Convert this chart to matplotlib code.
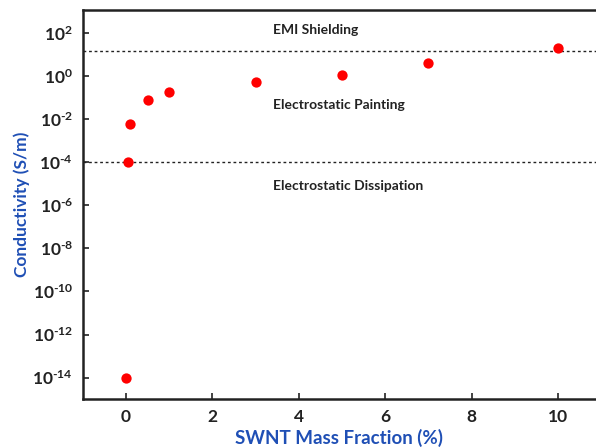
import numpy as np
import matplotlib
matplotlib.use("Agg")
import matplotlib.pyplot as plt

# SWNT loading (%) vs conductivity (S/m)
mass_frac = [0.0, 0.05, 0.1, 0.5, 1.0, 3.0, 5.0, 7.0, 10.0]
conductivity = [1e-14, 1e-4, 6e-3, 8e-2, 1.9e-1, 5.5e-1, 1.1e0, 4.2e0, 2.0e1]

# threshold lines and region labels
thresholds = [15.0, 1e-4]
region_names = ["EMI Shielding", "Electrostatic Painting", "Electrostatic Dissipation"]
region_y = [1.4e2, 4.5e-2, 8e-6]

xticks = [0, 2, 4, 6, 8, 10]
yticks = [1e2, 1e0, 1e-2, 1e-4, 1e-6, 1e-8, 1e-10, 1e-12, 1e-14]

plt.rcParams['font.family'] = ['Lato', 'DejaVu Sans']
plt.rcParams['mathtext.fontset'] = 'custom'
plt.rcParams['mathtext.rm'] = 'Lato:bold'
plt.rcParams['mathtext.default'] = 'rm'

fig = plt.figure(figsize=(5.96, 4.47), dpi=100)
ax = fig.add_axes([0.139, 0.107, 0.861, 0.871])

for t in thresholds:
    ax.axhline(t, color='#222222', lw=1.0, ls=(0, (2, 2)), zorder=1)

ax.scatter(mass_frac, conductivity, s=55, color='#ff0000', zorder=3, linewidths=0)

for name, y in zip(region_names, region_y):
    ax.text(3.4, y, name, fontsize=10, fontweight='bold', color='#222222',
            va='center', ha='left')

ax.set_yscale('log')
ax.set_xlim(-1, 10.88)
ax.set_ylim(1e-15, 1.2e3)
ax.set_xticks(xticks)
ax.set_yticks(yticks)
# plain hyphen in the exponent, as in the original
ax.set_yticklabels(["$10^{%s}$" % str(int(np.log10(v))).replace('-', '\u2010')
                    for v in yticks])
ax.minorticks_off()
ax.tick_params(direction='in', length=4, width=1.2, colors='#222222',
               labelsize=12.5, pad=7)
for lab in ax.get_xticklabels() + ax.get_yticklabels():
    lab.set_fontweight('bold')

ax.spines['right'].set_visible(False)
for s in ['left', 'bottom', 'top']:
    ax.spines[s].set_linewidth(1.8)
    ax.spines[s].set_color('#222222')

ax.set_xlabel("SWNT Mass Fraction (%)", fontsize=13.5, fontweight='bold',
              color='#1f4fb5', labelpad=3)
ax.set_ylabel("Conductivity (S/m)", fontsize=12.5, fontweight='bold',
              color='#1f4fb5', labelpad=2)

fig.savefig("out.png", dpi=100)
